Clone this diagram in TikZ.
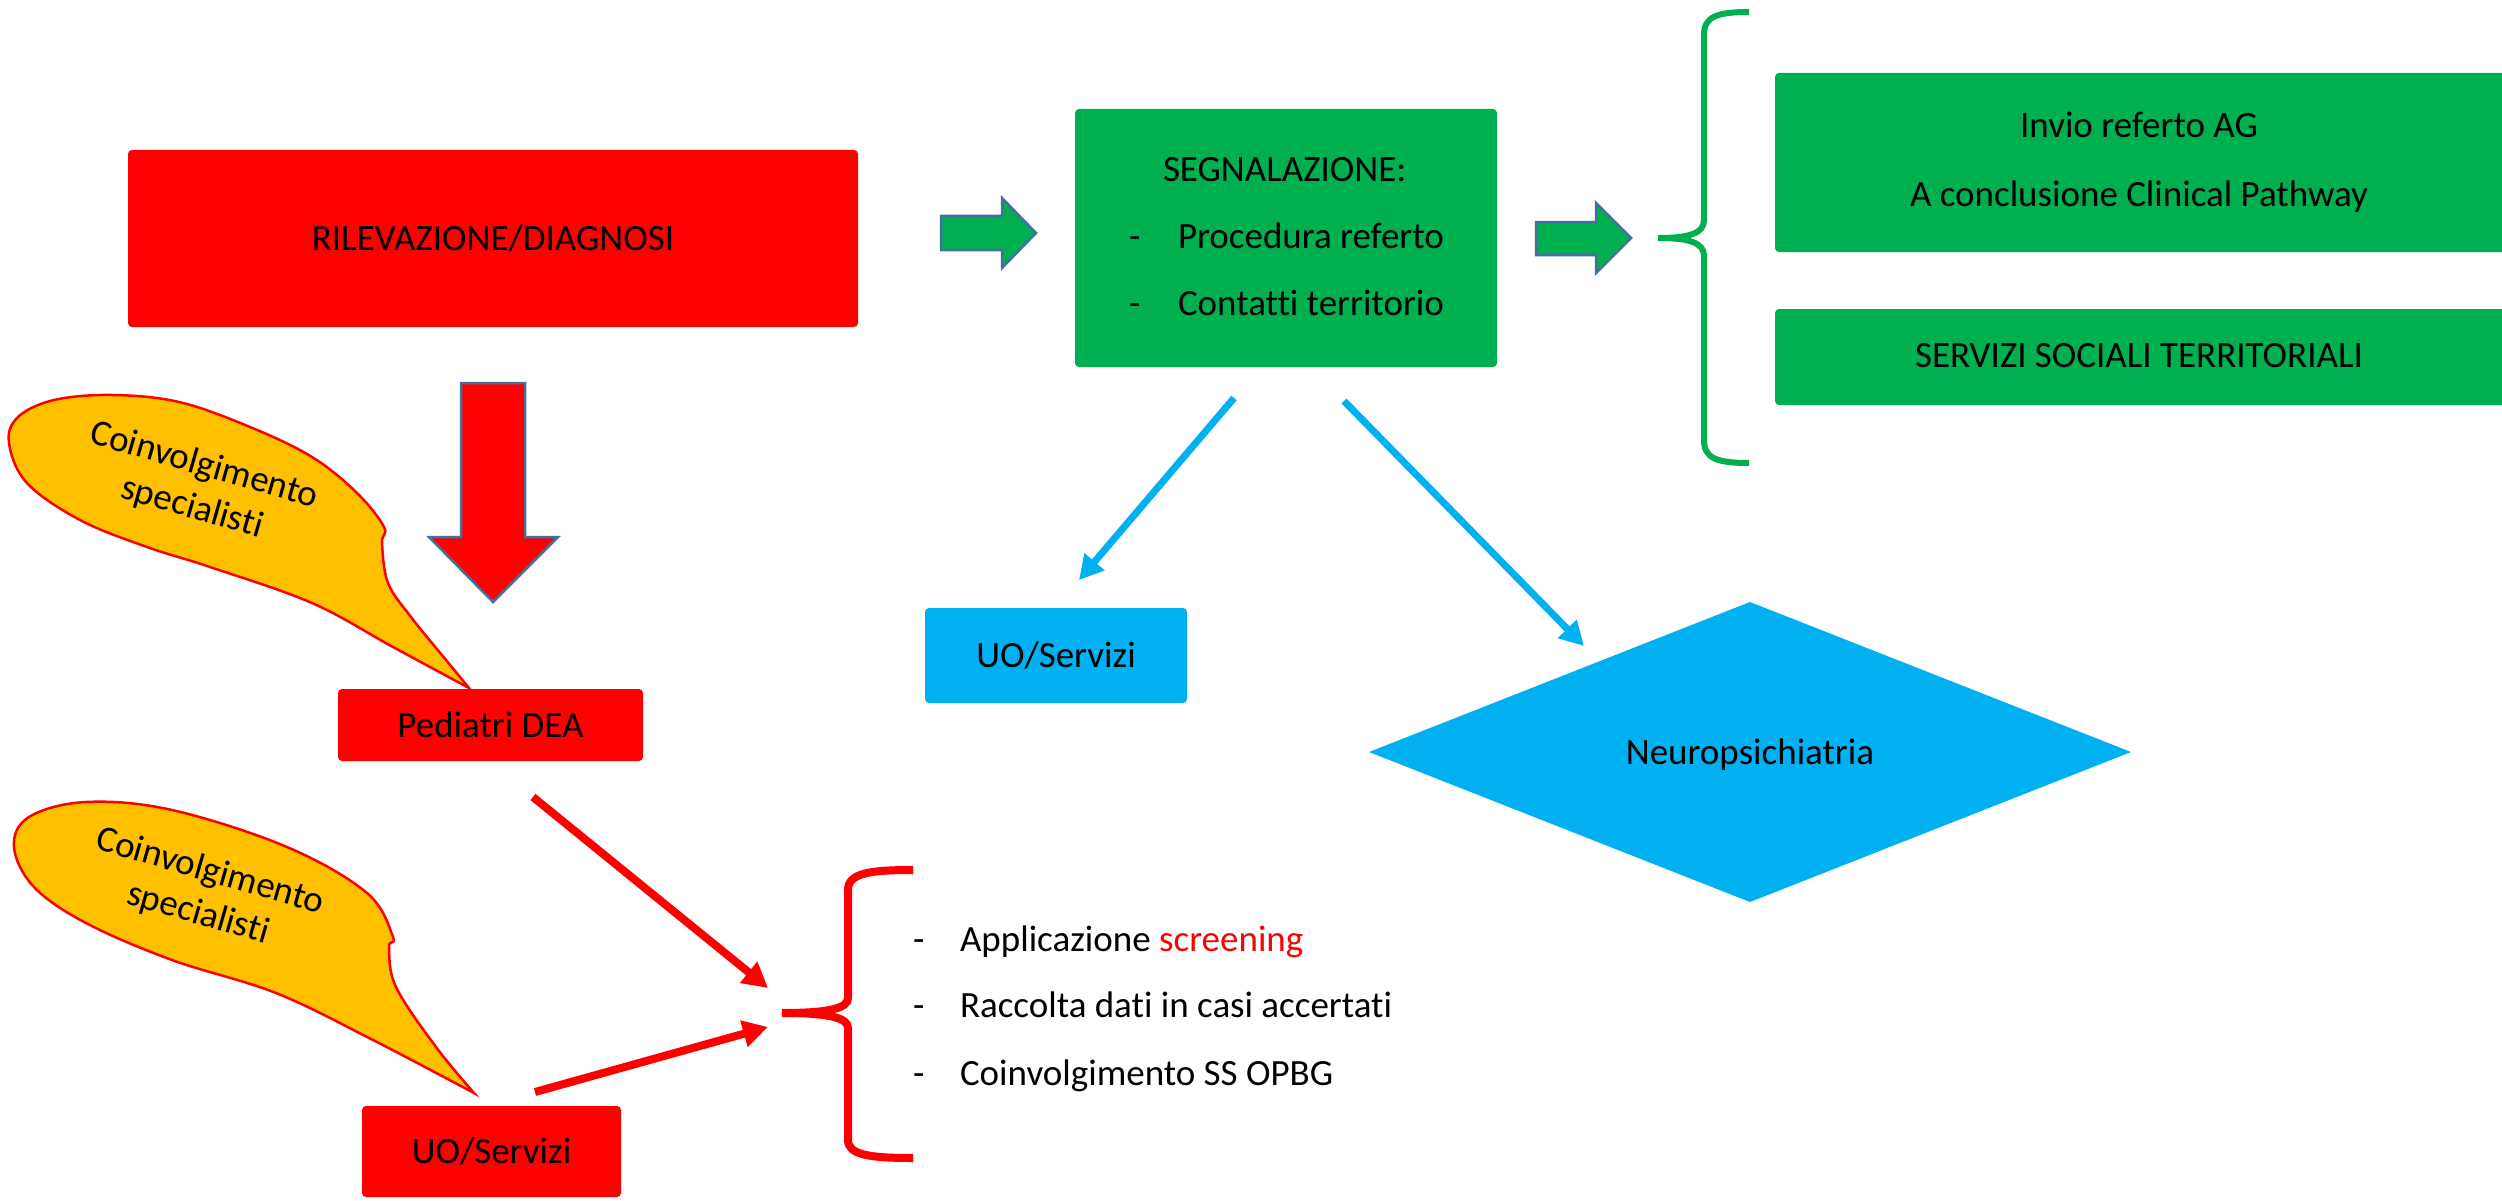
\documentclass[tikz,border=0pt]{standalone}
\usepackage{fontspec}
\setmainfont[Ligatures={NoCommon}]{Carlito}
\usetikzlibrary{arrows.meta,shapes.geometric}
\definecolor{pred}{RGB}{255,0,0}
\definecolor{pgreen}{RGB}{0,176,80}
\definecolor{pblue}{RGB}{0,176,240}
\definecolor{pyellow}{RGB}{255,192,0}
\definecolor{pedge}{RGB}{65,113,156}
\begin{document}
\begin{tikzpicture}[x=1pt,y=-1pt,
  every node/.style={font=\fontsize{37}{44}\selectfont, inner sep=0pt, outer sep=0pt},
  box/.style={rectangle, rounded corners=4pt, text height=24pt, text depth=0pt},
  txt/.style={anchor=base},
  txtw/.style={anchor=base west},
  blockarrow/.style={draw=pedge, line width=2.5pt, line join=miter},
  bluearrow/.style={draw=pblue, line width=7pt, -{Triangle[length=24pt,width=25pt]}},
  redarrow/.style={draw=pred, line width=8pt, -{Triangle[length=25pt,width=26pt]}},
  callout/.style={draw=pred, line width=2.5pt, fill=pyellow},
  bubbletext/.style={anchor=center, font=\fontsize{37}{44}\selectfont}
]
\useasboundingbox (0,0) rectangle (2502,1201);

% --- boxes ---
\node[box, fill=pred, minimum width=730pt, minimum height=177pt] (ril) at (493,238.5) {RILEVAZIONE/DIAGNOSI};
\node[box, fill=pgreen, minimum width=422pt, minimum height=258pt] (seg) at (1286,238) {};
\node[txtw] (segt) at (1163,182) {SEGNALAZIONE:};
\node[txtw] (segd1) at (1129,248) {-};
\node[txtw] (segl1) at (1178,248) {Procedura referto};
\node[txtw] (segd2) at (1129,315) {-};
\node[txtw] (segl2) at (1178,315) {Contatti territorio};

\node[box, fill=pgreen, minimum width=737pt, minimum height=179pt] (invio) at (2143.5,162.5) {};
\node[txt] (inviot1) at (2139,138) {Invio referto AG};
\node[txt] (inviot2) at (2139,207) {A conclusione Clinical Pathway};
\node[box, fill=pgreen, minimum width=737pt, minimum height=96pt] (serv) at (2143.5,357) {};
\node[txt] (servt) at (2139,367) {SERVIZI SOCIALI TERRITORIALI};

\node[box, fill=pred, minimum width=305pt, minimum height=72pt] (ped) at (490.5,725) {Pediatri DEA};
\node[box, fill=pred, minimum width=259pt, minimum height=91pt] (uor) at (491.5,1151.5) {UO/Servizi};
\node[box, fill=pblue, minimum width=262pt, minimum height=95pt] (uob) at (1056,655.5) {UO/Servizi};
\node[diamond, fill=pblue, minimum width=762pt, minimum height=300pt, text height=24pt, text depth=0pt] (neuro) at (1750,752) {Neuropsichiatria};

% --- block arrows ---
\draw[blockarrow, fill=pgreen] (941,216) -- (1002,216) -- (1002,198) -- (1036,233) -- (1002,268) -- (1002,250) -- (941,250) -- cycle;
\draw[blockarrow, fill=pgreen] (1536,222) -- (1596,222) -- (1596,203) -- (1631,238) -- (1596,273) -- (1596,255) -- (1536,255) -- cycle;
\draw[blockarrow, fill=pred] (461,383) -- (525,383) -- (525,537) -- (558,537) -- (493,602) -- (429,537) -- (461,537) -- cycle;

% --- braces ---
\draw[pgreen, line width=6pt] (1749,12) .. controls (1716,12) and (1704,17) .. (1704,35) -- (1704,220) .. controls (1704,233) and (1690,238) .. (1658,238) .. controls (1690,238) and (1704,243) .. (1704,256) -- (1704,440) .. controls (1704,458) and (1716,463) .. (1749,463);
\draw[pred, line width=8pt] (913,870) .. controls (870,870) and (848,873) .. (848,890) -- (848,998) .. controls (848,1008) and (830,1013) .. (782,1013) .. controls (830,1013) and (848,1018) .. (848,1028) -- (848,1140) .. controls (848,1155) and (870,1158) .. (913,1158);

% --- bullet list ---
\node[txtw] (bd1) at (913,951) {-};
\node[txtw] (bl1) at (960,951) {Applicazione \textcolor{pred}{screening}};
\node[txtw] (bd2) at (913,1017) {-};
\node[txtw] (bl2) at (960,1017) {Raccolta dati in casi accertati};
\node[txtw] (bd3) at (913,1085) {-};
\node[txtw] (bl3) at (960,1085) {Coinvolgimento SS OPBG};

% --- callouts ---
\draw[callout] plot[smooth, tension=0.6] coordinates {(469,688) (393,647) (312,603) (210,567) (147,547) (80,520) (27,483) (9,443) (18,417) (54,400) (112,395) (179,402) (250,427) (312,457) (357,493) (384,527) (382,543) (388,583) (411,617) (446,660) (469,688)} -- cycle;
\node[bubbletext, rotate=-16] (c1a) at (204,466) {Coinvolgimento};
\node[bubbletext, rotate=-16] (c1b) at (192,508) {specialisti};
\draw[callout] plot[smooth, tension=0.6] coordinates {(474,1093) (373,1040) (276,993) (172,960) (86,923) (34,887) (14,847) (29,817) (86,802) (172,810) (287,847) (367,893) (393,937) (389,947) (396,987) (436,1047) (474,1093)} -- cycle;
\node[bubbletext, rotate=-16] (c2a) at (210,872) {Coinvolgimento};
\node[bubbletext, rotate=-16] (c2b) at (198,914) {specialisti};

% --- connectors ---
\coordinate (b1s) at (1234,398);
\coordinate (b1e) at (1079,580);
\coordinate (b2s) at (1344,401);
\coordinate (b2e) at (1584,646);
\draw[bluearrow] (b1s) -- (b1e);
\draw[bluearrow] (b2s) -- (b2e);
\coordinate (r1s) at (533,797);
\coordinate (r1e) at (768,988);
\coordinate (r2s) at (535,1092);
\coordinate (r2e) at (768,1027);
\draw[redarrow] (r1s) -- (r1e);
\draw[redarrow] (r2s) -- (r2e);
\end{tikzpicture}
\end{document}
